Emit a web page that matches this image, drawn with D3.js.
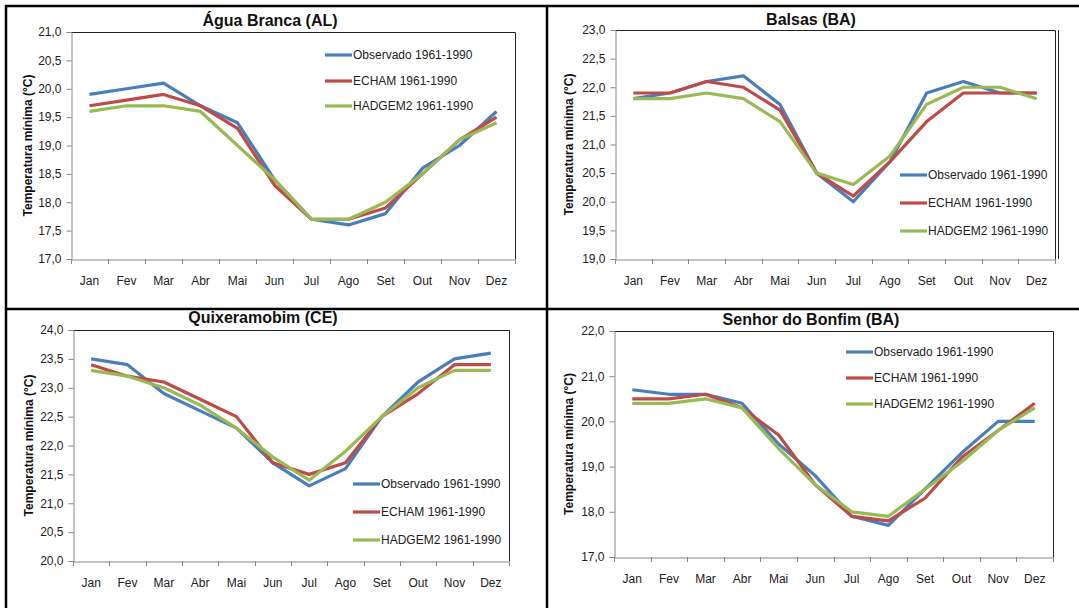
<!DOCTYPE html>
<html>
<head>
<meta charset="utf-8">
<script src="https://cdn.jsdelivr.net/npm/d3@7"></script>
<style>
  body { margin: 0; background: #fff; }
  svg text { font-family: "Liberation Sans", Arial, sans-serif; }
</style>
</head>
<body>
<svg id="chart" width="1079" height="608"></svg>
<script>
// Temperatura mínima mensal, 1961-1990

const months = ["Jan", "Fev", "Mar", "Abr", "Mai", "Jun", "Jul", "Ago", "Set", "Out", "Nov", "Dez"];
const seriesNames = ["Observado 1961-1990", "ECHAM 1961-1990", "HADGEM2 1961-1990"];
const stations = ["Água Branca (AL)", "Balsas (BA)", "Quixeramobim (CE)", "Senhor do Bonfim (BA)"];

// Água Branca (AL)
const aguaObs    = [19.9, 20.0, 20.1, 19.7, 19.4, 18.4, 17.7, 17.6, 17.8, 18.6, 19.0, 19.6];
const aguaEcham  = [19.7, 19.8, 19.9, 19.7, 19.3, 18.3, 17.7, 17.7, 17.9, 18.5, 19.1, 19.5];
const aguaHadgem = [19.6, 19.7, 19.7, 19.6, 19.0, 18.4, 17.7, 17.7, 18.0, 18.5, 19.1, 19.4];

// Balsas (BA)
const balsasObs    = [21.8, 21.9, 22.1, 22.2, 21.7, 20.5, 20.0, 20.7, 21.9, 22.1, 21.9, 21.9];
const balsasEcham  = [21.9, 21.9, 22.1, 22.0, 21.6, 20.5, 20.1, 20.7, 21.4, 21.9, 21.9, 21.9];
const balsasHadgem = [21.8, 21.8, 21.9, 21.8, 21.4, 20.5, 20.3, 20.8, 21.7, 22.0, 22.0, 21.8];

// Quixeramobim (CE)
const quixObs    = [23.5, 23.4, 22.9, 22.6, 22.3, 21.7, 21.3, 21.6, 22.5, 23.1, 23.5, 23.6];
const quixEcham  = [23.4, 23.2, 23.1, 22.8, 22.5, 21.7, 21.5, 21.7, 22.5, 22.9, 23.4, 23.4];
const quixHadgem = [23.3, 23.2, 23.0, 22.7, 22.3, 21.8, 21.4, 21.9, 22.5, 23.0, 23.3, 23.3];

// Senhor do Bonfim (BA)
const bonfimObs    = [20.7, 20.6, 20.6, 20.4, 19.5, 18.8, 17.9, 17.7, 18.5, 19.3, 20.0, 20.0];
const bonfimEcham  = [20.5, 20.5, 20.6, 20.3, 19.7, 18.6, 17.9, 17.8, 18.3, 19.2, 19.8, 20.4];
const bonfimHadgem = [20.4, 20.4, 20.5, 20.3, 19.4, 18.6, 18.0, 17.9, 18.5, 19.1, 19.8, 20.3];

// eixos Y de cada estação
const yDomains = [[17, 21], [19, 23], [20, 24], [17, 22]];
const yTickSteps = [0.5, 0.5, 0.5, 1.0];

const allSeries = [
  [aguaObs, aguaEcham, aguaHadgem],
  [balsasObs, balsasEcham, balsasHadgem],
  [quixObs, quixEcham, quixHadgem],
  [bonfimObs, bonfimEcham, bonfimHadgem]
];

const colors = ["#4A7EBB", "#BE4B48", "#98B954"];

// posição de cada painel (área do gráfico e legenda)
const panels = [
  { left: 71,  right: 515,  top: 32,  bottom: 259, cx: 270, titleY: 26,  ylabX: 28,  legX: 325, legY: [55, 81, 106] },
  { left: 615, right: 1055, top: 30,  bottom: 259, cx: 811, titleY: 25,  ylabX: 569, legX: 900, legY: [175, 203, 231] },
  { left: 73,  right: 509,  top: 330, bottom: 561, cx: 263, titleY: 323, ylabX: 29,  legX: 353, legY: [484, 512, 540] },
  { left: 614, right: 1053, top: 331, bottom: 557, cx: 811, titleY: 325, ylabX: 569, legX: 846, legY: [352, 378, 404] }
];

const svg = d3.select("#chart");
const ptBR = d3.formatLocale({ decimal: ",", thousands: ".", grouping: [3], currency: ["R$", ""] });
const fmt = ptBR.format(".1f");

// molduras pretas
svg.append("line").attr("x1", 5).attr("x2", 1079).attr("y1", 6).attr("y2", 6).attr("stroke", "#000").attr("stroke-width", 2.5);
svg.append("line").attr("x1", 6).attr("x2", 6).attr("y1", 5).attr("y2", 608).attr("stroke", "#000").attr("stroke-width", 2.5);
svg.append("line").attr("x1", 547).attr("x2", 547).attr("y1", 5).attr("y2", 608).attr("stroke", "#000").attr("stroke-width", 2.5);
svg.append("line").attr("x1", 5).attr("x2", 1079).attr("y1", 309).attr("y2", 309).attr("stroke", "#000").attr("stroke-width", 2.5);

panels.forEach((p, i) => {
  const g = svg.append("g");

  const x = d3.scaleBand().domain(months).range([p.left, p.right]);
  const y = d3.scaleLinear().domain(yDomains[i]).range([p.bottom, p.top]);
  const ticks = d3.range(yDomains[i][0], yDomains[i][1] + 1e-9, yTickSteps[i]);

  // borda da área de plotagem
  g.append("path")
    .attr("d", `M${p.left},${p.top + 0.5}H${p.right + 0.5}V${p.bottom}`)
    .attr("fill", "none").attr("stroke", "#222").attr("stroke-width", 1);
  if (i === 1) {
    g.append("line").attr("x1", p.right + 3.5).attr("x2", p.right + 3.5)
      .attr("y1", p.top).attr("y2", p.bottom).attr("stroke", "#222");
  }

  // eixo Y
  const yAxis = d3.axisLeft(y).tickValues(ticks).tickFormat(fmt).tickSize(5).tickPadding(5);
  const ya = g.append("g").attr("transform", `translate(${p.left + 0.5},0)`).call(yAxis);
  ya.select(".domain").attr("stroke", "#888");
  ya.selectAll(".tick line").attr("stroke", "#888");
  ya.selectAll("text").attr("font-size", 12).attr("fill", "#222");

  // eixo X
  const xAxis = d3.axisBottom(x).tickSize(0).tickPadding(17);
  const xa = g.append("g").attr("transform", `translate(0,${p.bottom + 0.5})`).call(xAxis);
  xa.select(".domain").attr("stroke", "#888");
  xa.selectAll("text").attr("font-size", 12).attr("fill", "#222");
  const bounds = months.map(m => x(m)).concat([x.range()[1]]);
  g.selectAll(".xtick").data(bounds).enter().append("line")
    .attr("x1", d => Math.round(d) + 0.5).attr("x2", d => Math.round(d) + 0.5)
    .attr("y1", p.bottom).attr("y2", p.bottom + 5)
    .attr("stroke", "#888");

  // título
  g.append("text").attr("x", p.cx).attr("y", p.titleY)
    .attr("text-anchor", "middle").attr("font-size", 16).attr("font-weight", "bold")
    .attr("fill", "#111").text(stations[i]);

  // rótulo do eixo Y
  g.append("text")
    .attr("transform", `translate(${p.ylabX},${(p.top + p.bottom) / 2}) rotate(-90)`)
    .attr("text-anchor", "middle").attr("dy", "0.35em")
    .attr("font-size", 12).attr("font-weight", "bold").attr("fill", "#111")
    .text("Temperatura mínima (°C)");

  // linhas
  const line = d3.line()
    .x((d, j) => x(months[j]) + x.bandwidth() / 2)
    .y(d => y(d));

  allSeries[i].forEach((vals, k) => {
    g.append("path").datum(vals)
      .attr("d", line)
      .attr("fill", "none")
      .attr("stroke", colors[k])
      .attr("stroke-width", 3.2)
      .attr("stroke-linejoin", "round");
  });

  // legenda
  seriesNames.forEach((name, k) => {
    g.append("line")
      .attr("x1", p.legX).attr("x2", p.legX + 27)
      .attr("y1", p.legY[k]).attr("y2", p.legY[k])
      .attr("stroke", colors[k]).attr("stroke-width", 3.2);
    g.append("text")
      .attr("x", p.legX + 28).attr("y", p.legY[k]).attr("dy", "0.35em")
      .attr("font-size", 12).attr("fill", "#222").text(name);
  });
});
</script>
</body>
</html>
